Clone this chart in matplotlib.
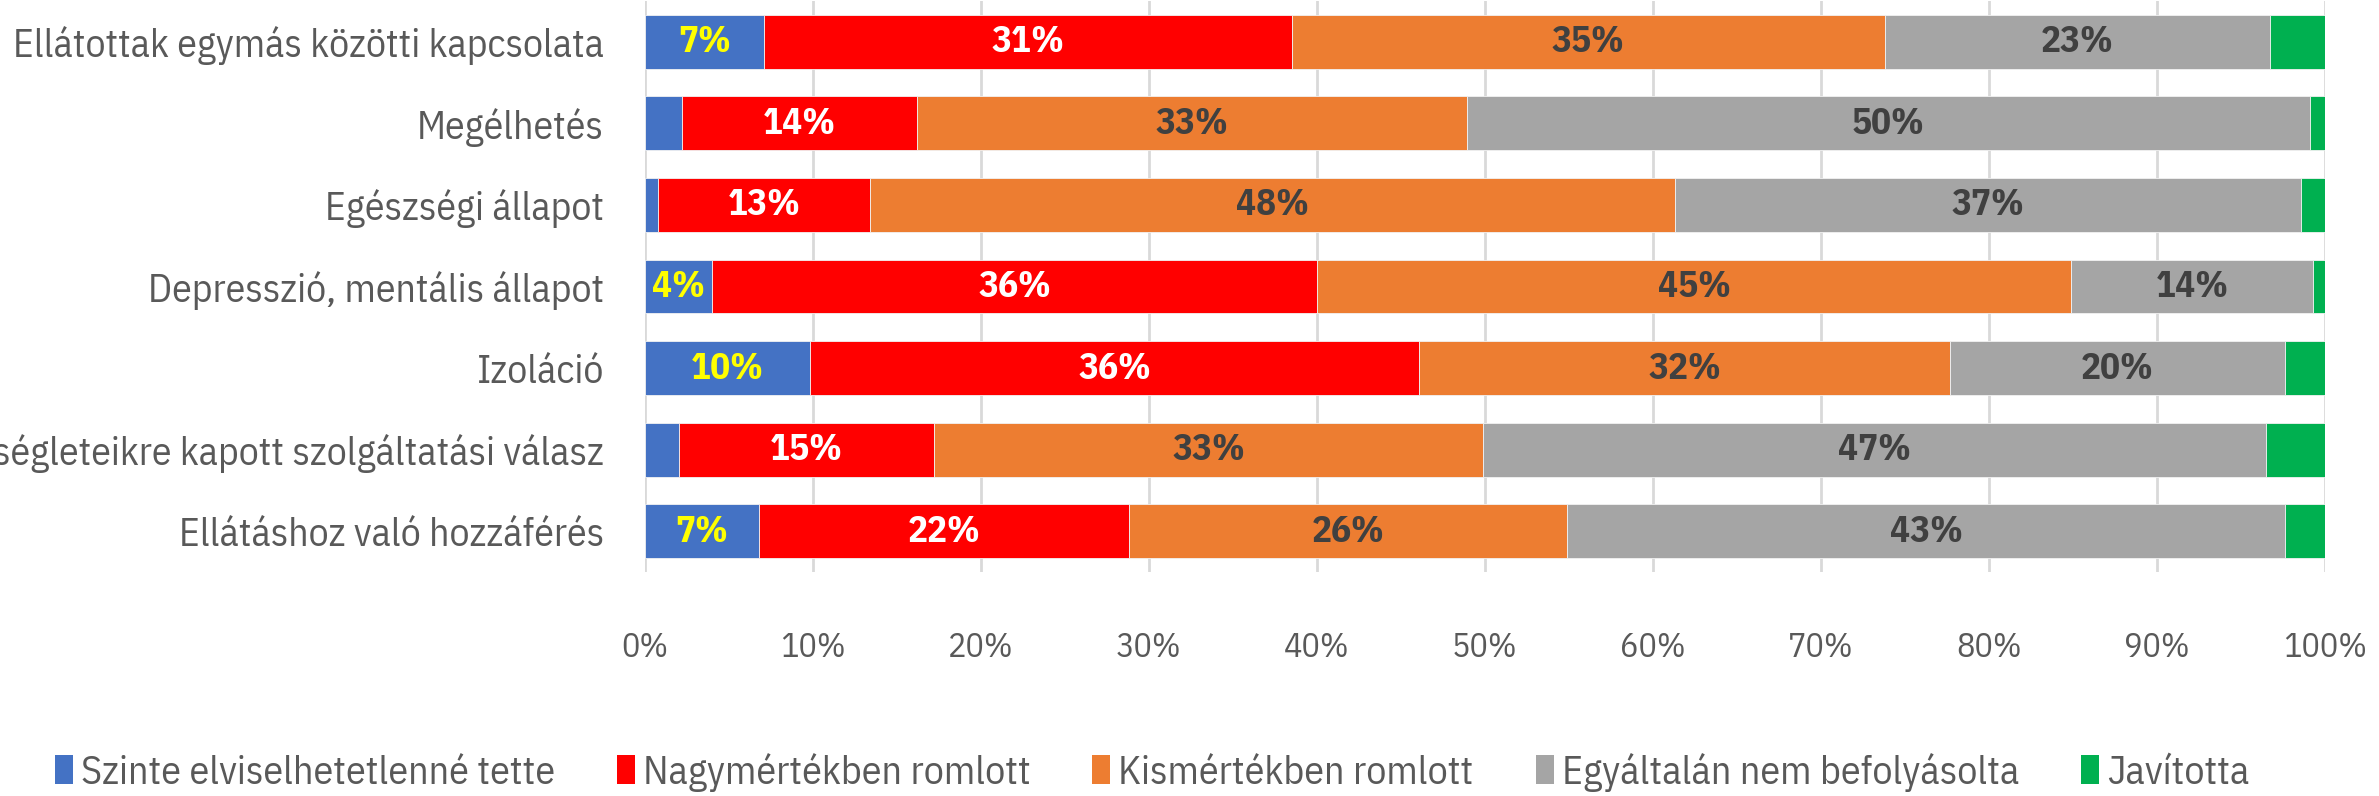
import matplotlib
matplotlib.use("Agg")
import matplotlib.pyplot as plt
from matplotlib import font_manager
from matplotlib.patches import Patch
import numpy as np

categories = [
    "Ellátottak egymás közötti kapcsolata",
    "Megélhetés",
    "Egészségi állapot",
    "Depresszió, mentális állapot",
    "Izoláció",
    "ségleteikre kapott szolgáltatási válasz",
    "Ellátáshoz való hozzáférés",
]
series_names = [
    "Szinte elviselhetetlenné tette",
    "Nagymértékben romlott",
    "Kismértékben romlott",
    "Egyáltalán nem befolyásolta",
    "Javította",
]
szinte = [7.1, 2.2, 0.8, 4.0, 9.8, 2.0, 6.8]
nagy = [31.4, 14.0, 12.6, 36.0, 36.3, 15.2, 22.0]
kis = [35.3, 32.7, 47.9, 44.9, 31.6, 32.7, 26.1]
egyaltalan = [22.9, 50.2, 37.3, 14.4, 19.9, 46.6, 42.7]
javitotta = [3.3, 0.9, 1.4, 0.7, 2.4, 3.5, 2.4]
tick_values = [0, 10, 20, 30, 40, 50, 60, 70, 80, 90, 100]

colors = ["#4472C4", "#FF0000", "#ED7D31", "#A5A5A5", "#00B050"]
label_colors = ["#FFFF00", "#FFFFFF", "#404040", "#404040", None]

avail = {f.name for f in font_manager.fontManager.ttflist}
fam = "DejaVu Sans"
for cand in ["IBM Plex Sans Condensed", "Roboto Condensed", "PT Sans Narrow",
             "Liberation Sans Narrow", "Carlito"]:
    if cand in avail:
        fam = cand
        break
plt.rcParams["font.family"] = [fam, "DejaVu Sans"]

W, H = 2379, 796
fig = plt.figure(figsize=(W / 100, H / 100), dpi=100)
renderer = fig.canvas.get_renderer()


def fit_size(text, target_px, weight="normal", base=30.0):
    t = fig.text(0, 0, text, fontsize=base, fontweight=weight)
    w = t.get_window_extent(renderer).width
    t.remove()
    return base * target_px / w


def text_h(text, size, weight="normal"):
    t = fig.text(0, 0, text, fontsize=size, fontweight=weight)
    h = t.get_window_extent(renderer).height
    t.remove()
    return h


cat_fs = fit_size(categories[0], 590)
tick_fs = fit_size("100%", 84)
lab_fs = fit_size("31%", 73, "bold")
leg_fs = fit_size(series_names[0], 475)

ax_left, ax_right, ax_top, ax_bot = 645, 2325, 1, 572
ax = fig.add_axes([ax_left / W, 1 - ax_bot / H, (ax_right - ax_left) / W,
                   (ax_bot - ax_top) / H])

y = np.arange(len(categories))
left = np.zeros(len(categories))
data = [szinte, nagy, kis, egyaltalan, javitotta]
for vals, name, col, lcol in zip(data, series_names, colors, label_colors):
    vals = np.array(vals)
    bars = ax.barh(y, vals, left=left, height=0.66, color=col, label=name,
                   edgecolor="#F2F2F2", linewidth=0.6, zorder=3)
    if lcol is not None:
        labels = [f"{int(round(v))}%" if v >= 3.5 else "" for v in vals]
        ax.bar_label(bars, labels=labels, label_type="center", color=lcol,
                     fontsize=lab_fs, fontweight="bold")
    left += vals

ax.set_xlim(0, 100)
ax.set_ylim(6.5, -0.5)
ax.set_yticks(y)
ax.set_yticklabels(categories, fontsize=cat_fs)
ax.set_xticks(tick_values)
ax.set_xticklabels([f"{t}%" for t in tick_values], fontsize=tick_fs)
ax.tick_params(axis="both", length=0, colors="#595959")
th = text_h("100%", tick_fs)
ax.tick_params(axis="x", pad=max(0, (645 - ax_bot - th / 2 + 3)) * 0.72)
ax.tick_params(axis="y", pad=(ax_left - 604) * 0.72)
ax.grid(axis="x", color="#D9D9D9", linewidth=2, zorder=0)
for s in ax.spines.values():
    s.set_visible(False)

leg_px = leg_fs / 0.72
handles = [Patch(facecolor=c, edgecolor="none") for c in colors]
fig.legend(handles, series_names, loc="center",
           bbox_to_anchor=(1152 / W, 1 - 772 / H), ncol=5, frameon=False,
           fontsize=leg_fs, labelcolor="#595959",
           handlelength=18 / leg_px, handleheight=30 / leg_px,
           handletextpad=8 / leg_px, columnspacing=62 / leg_px,
           borderpad=0, borderaxespad=0)

fig.savefig("out.png", dpi=100)
